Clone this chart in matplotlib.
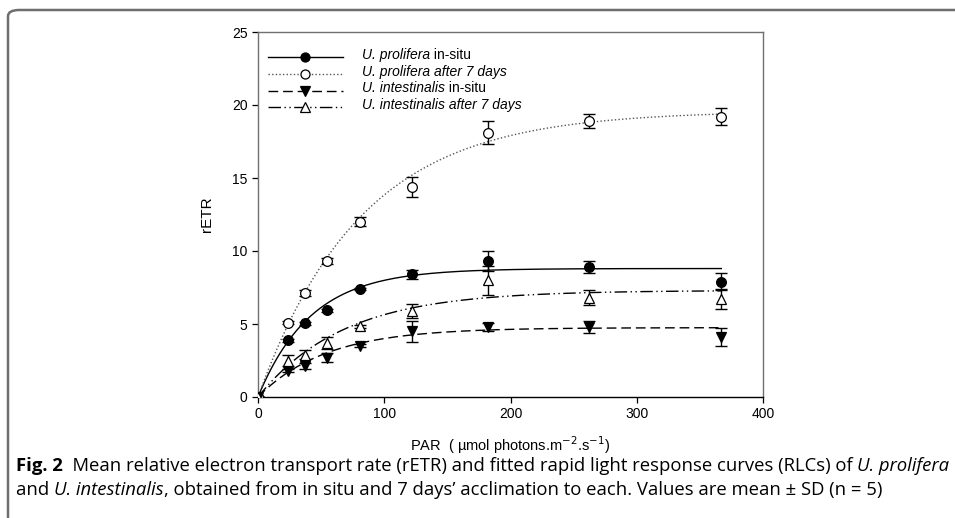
import numpy as np
import matplotlib
matplotlib.use("Agg")
import matplotlib.pyplot as plt
from matplotlib.patches import FancyBboxPatch

# PAR steps (umol photons m-2 s-1)
par = [0, 24, 37, 55, 81, 122, 182, 262, 367]

# mean rETR and SD for each group
prol_insitu = [0, 3.9, 5.05, 5.95, 7.4, 8.4, 9.3, 8.9, 7.9]
prol_insitu_sd = [0, 0.1, 0.1, 0.1, 0.1, 0.3, 0.7, 0.4, 0.6]
prol_7d = [0, 5.1, 7.1, 9.3, 12.0, 14.4, 18.1, 18.9, 19.2]
prol_7d_sd = [0, 0.1, 0.2, 0.2, 0.3, 0.7, 0.8, 0.5, 0.6]
intes_insitu = [0, 1.8, 2.1, 2.7, 3.5, 4.5, 4.8, 4.8, 4.1]
intes_insitu_sd = [0, 0.1, 0.2, 0.3, 0.1, 0.7, 0.3, 0.4, 0.6]
intes_7d = [0, 2.5, 2.9, 3.7, 4.85, 5.9, 8.0, 6.8, 6.7]
intes_7d_sd = [0, 0.4, 0.3, 0.4, 0.1, 0.5, 1.0, 0.5, 0.7]

# fitted RLC parameters (ETRmax, alpha)
etr_max = [8.8, 19.6, 4.75, 7.3]
alpha = [0.21, 0.24, 0.088, 0.108]

labels = [("U. prolifera", " in-situ"), ("U. prolifera after 7 days", ""),
          ("U. intestinalis", " in-situ"), ("U. intestinalis after 7 days", "")]

fig = plt.figure(figsize=(9.55, 5.18), dpi=100)
plt.rcParams['font.family'] = ['Liberation Sans', 'DejaVu Sans']

# frame around figure + caption (only the top-left corner is visible)
frame = FancyBboxPatch((8 / 955, -0.5), 2.0, 1.5 - 10 / 518,
                       boxstyle="round,pad=0,rounding_size=0.012",
                       transform=fig.transFigure, fill=False,
                       edgecolor="#6e6e6e", linewidth=1.8, clip_on=False)
fig.patches.append(frame)

ax = fig.add_axes([258 / 955, 121 / 518, 505 / 955, 365 / 518])

means = [prol_insitu, prol_7d, intes_insitu, intes_7d]
sds = [prol_insitu_sd, prol_7d_sd, intes_insitu_sd, intes_7d_sd]
markers = ['o', 'o', 'v', '^']
faces = ['black', 'white', 'black', 'white']
styles = ['-', (0, (1, 1.6)), (0, (7, 3.5)), (0, (9, 2.5, 1, 2.5, 1, 2.5))]
lcolors = ['black', '#555555', 'black', 'black']
msizes = [7, 7, 7.5, 7.5]

xfit = np.linspace(0, par[-1], 300)
handles = []
for i in range(4):
    yfit = etr_max[i] * (1 - np.exp(-alpha[i] * xfit / etr_max[i]))
    ax.plot(xfit, yfit, color=lcolors[i], linestyle=styles[i], lw=1.0, zorder=2)
    ax.errorbar(par, means[i], yerr=sds[i], fmt='none', ecolor='black',
                elinewidth=1.0, capsize=4, capthick=1.0, zorder=3)
    ax.plot(par, means[i], linestyle='none', marker=markers[i], ms=msizes[i],
            mfc=faces[i], mec='black', mew=0.9, zorder=4)
    h, = ax.plot([], [], color=lcolors[i], linestyle=styles[i], lw=1.0,
                 marker=markers[i], ms=msizes[i] - 0.5, mfc=faces[i], mec='black', mew=0.9)
    handles.append(h)

ax.set_xlim(0, 400)
ax.set_ylim(0, 25)
ax.set_xticks([0, 100, 200, 300, 400])
ax.set_yticks([0, 5, 10, 15, 20, 25])
ax.tick_params(direction='out', length=4, width=0.9, labelsize=10, colors='black')
for s in ['top', 'right', 'left']:
    ax.spines[s].set_color('#707070')
ax.spines['bottom'].set_color('black')
for s in ax.spines.values():
    s.set_linewidth(1.0)

ax.set_ylabel('rETR', fontsize=11, labelpad=13)
ax.set_xlabel('PAR  ( \u00b5mol photons.m$^{-2}$.s$^{-1}$)', fontsize=10.5, labelpad=9)

leg = ax.legend(handles, [''] * 4, loc='upper left', bbox_to_anchor=(0.0, 0.975),
                frameon=False, handlelength=5.4, handletextpad=0.2,
                labelspacing=0.2, fontsize=10, borderaxespad=0.3)

fig.canvas.draw()
r = fig.canvas.get_renderer()


def put_runs(x, y, runs, size, family):
    # draw text pieces one after another on the same baseline
    for txt, kw in runs:
        t = fig.text(x, y, txt, fontsize=size, family=family, va='baseline', **kw)
        bb = t.get_window_extent(renderer=r)
        x += bb.width / fig.bbox.width
    return x


# legend labels
for i, h in enumerate(leg.legend_handles):
    bb = leg.get_texts()[i].get_window_extent(renderer=r)
    yb = (bb.y0 + 3) / fig.bbox.height
    runs = [(labels[i][0], {'style': 'italic'})]
    if labels[i][1]:
        runs.append((labels[i][1], {}))
    put_runs(362 / 955, yb, runs, 10, ['Liberation Sans'])

# caption
cap = ['Open Sans', 'DejaVu Sans']
put_runs(16 / 955, 1 - 471 / 518,
         [('Fig. 2', {'weight': 'bold'}),
          ('  Mean relative electron transport rate (rETR) and fitted rapid light response curves (RLCs) of ', {}),
          ('U. prolifera', {'style': 'italic'})], 13.3, cap)
put_runs(16 / 955, 1 - 495 / 518,
         [('and ', {}), ('U. intestinalis', {'style': 'italic'}),
          (', obtained from in situ and 7 days\u2019 acclimation to each. Values are mean \u00b1 SD (n = 5)', {})],
         13.3, cap)

fig.savefig('out.png', dpi=100)
